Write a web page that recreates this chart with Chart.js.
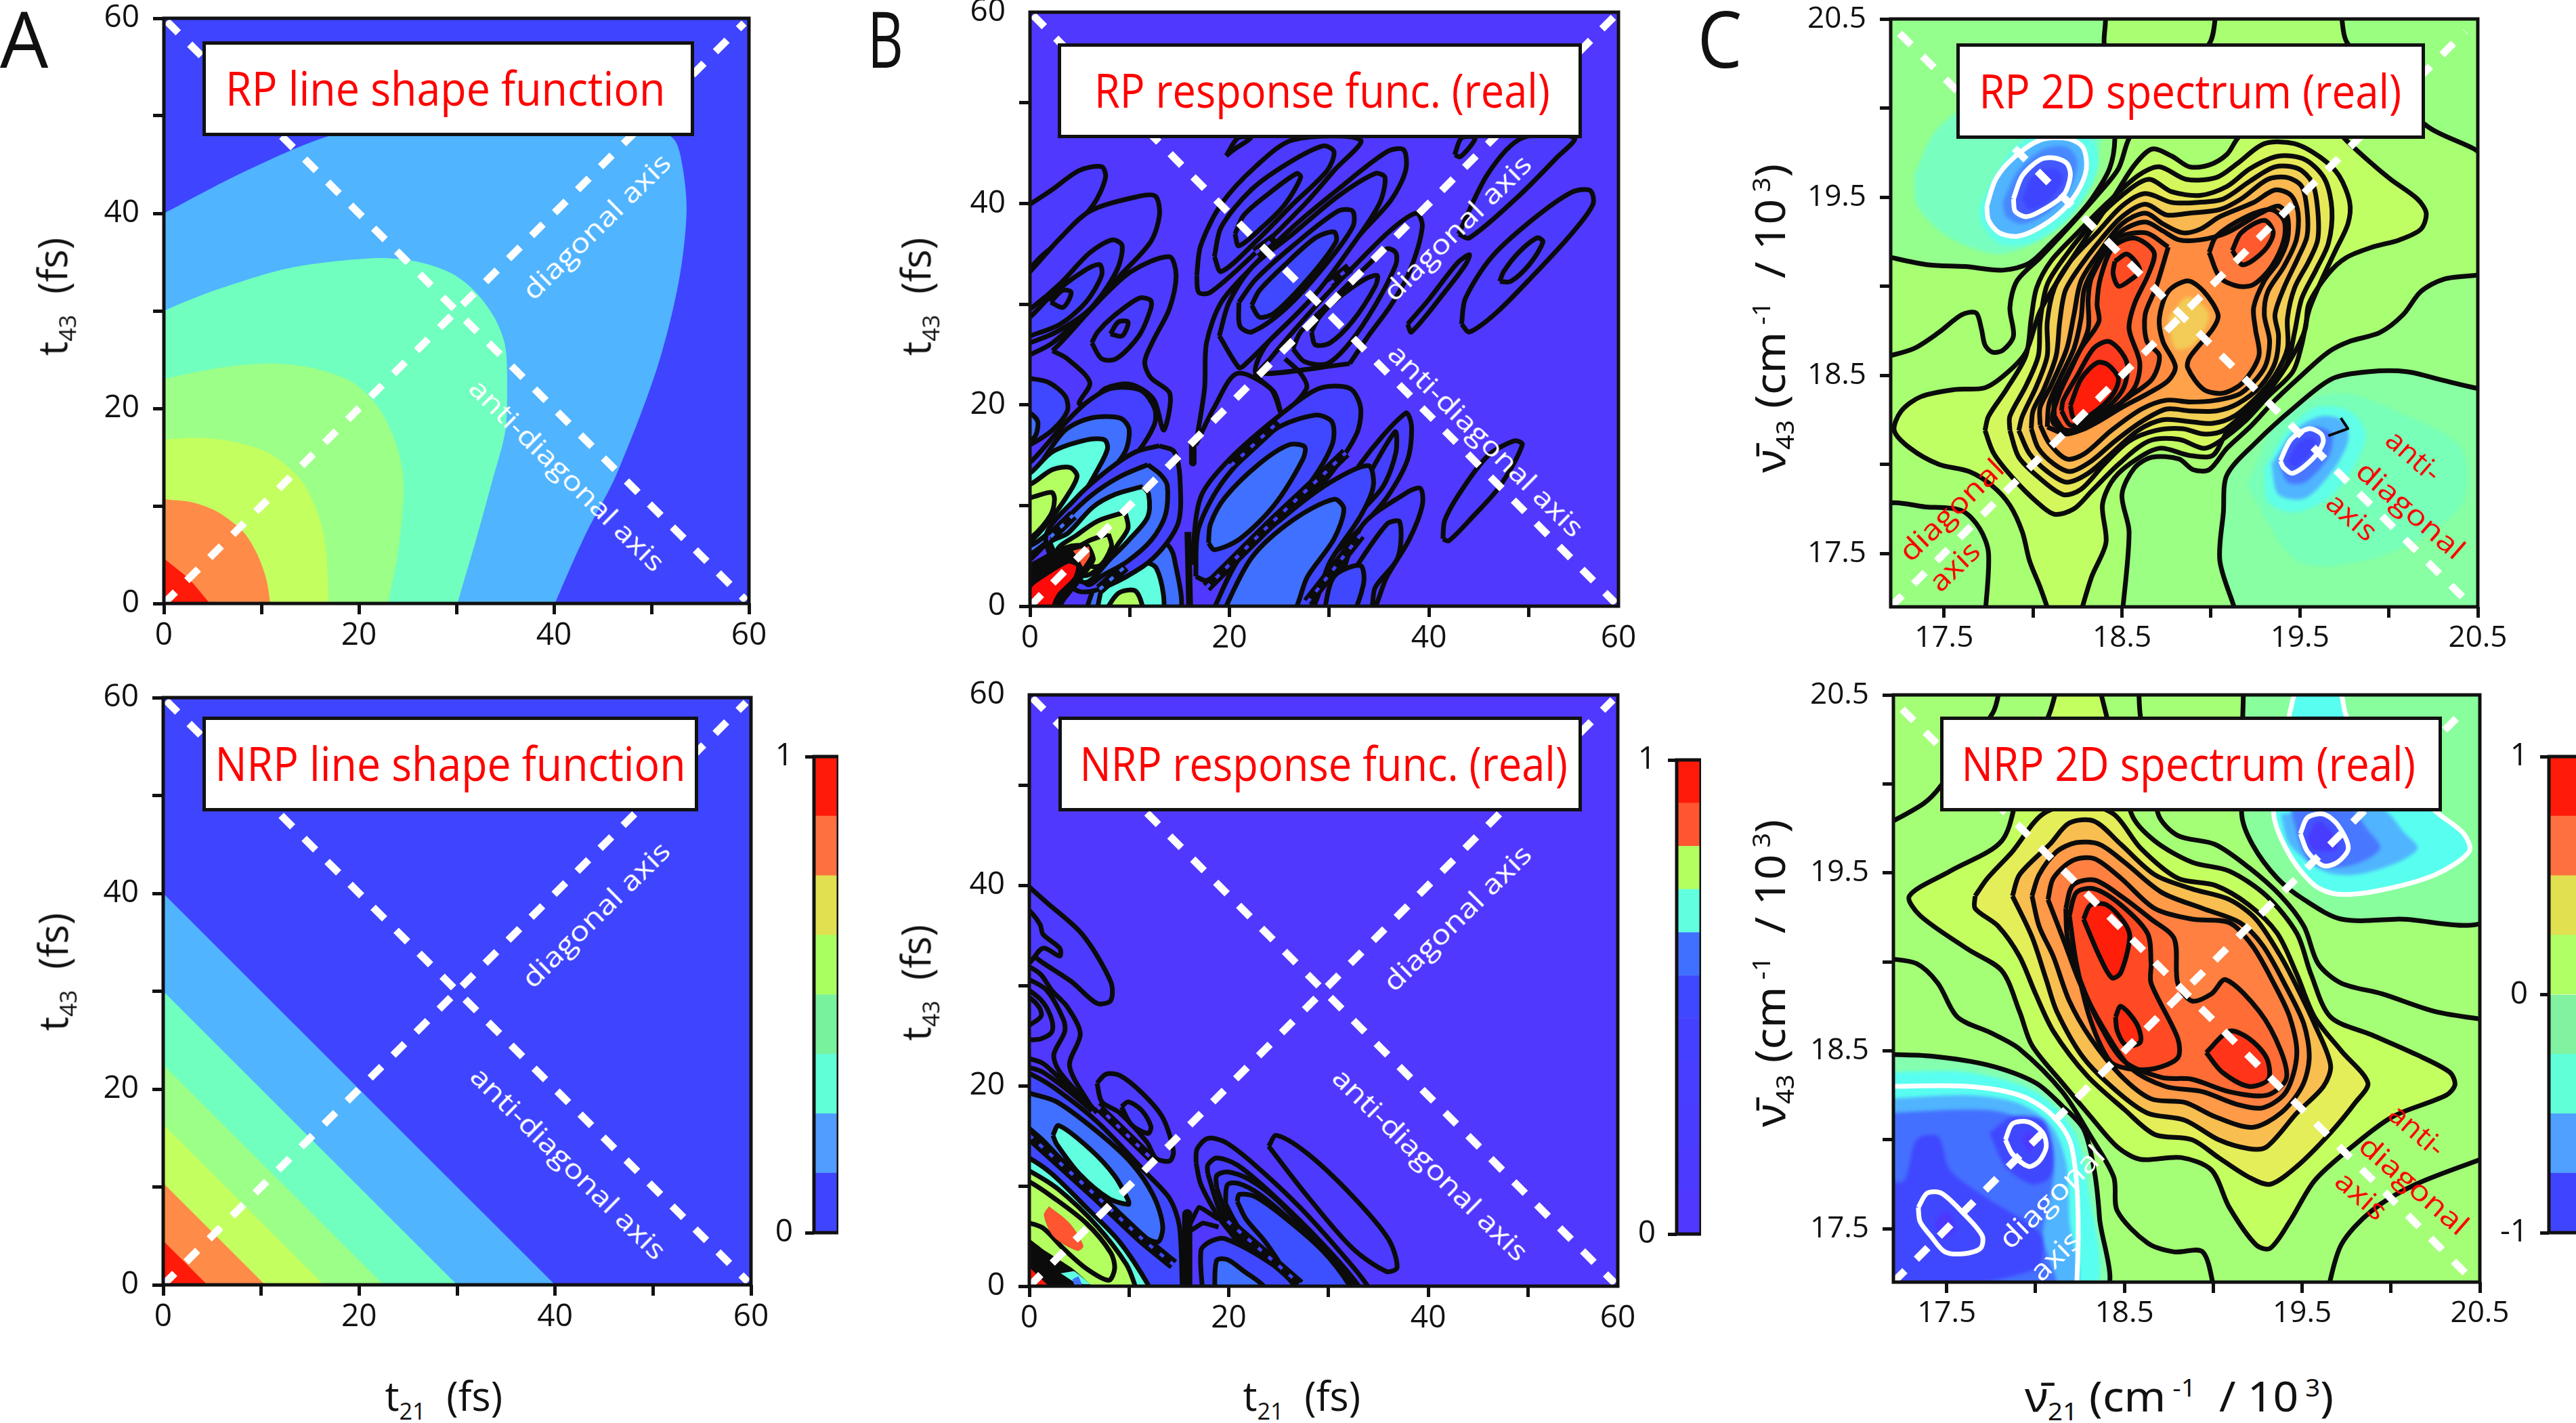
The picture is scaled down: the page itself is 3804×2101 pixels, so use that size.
<!DOCTYPE html>
<html><head><meta charset="utf-8"><title>2D spectra</title>
<script src="https://cdn.jsdelivr.net/npm/chart.js@4/dist/chart.umd.min.js"></script>
<style>
html,body{margin:0;padding:0;background:#fff;width:3804px;height:2101px;overflow:hidden}
#page{position:relative;width:3804px;height:2101px;overflow:hidden;font-family:"Open Sans","Noto Sans",sans-serif}
canvas{position:absolute;z-index:1}
.box{position:absolute;z-index:3;background:#fff;border:5px solid #111;box-sizing:border-box}
.txt{position:absolute;z-index:4;white-space:nowrap;line-height:1;transform-origin:center}
.txt sub,.txt sup{font-size:58%;line-height:0}
</style></head><body><div id="page"></div>
<script>
/* ---------- tick values ---------- */
const tTicks=[0,10,20,30,40,50,60];
const tLabels=[0,20,40,60];
const bTicks=[0,10,20,30,40,50,59];          /* response panels stop just short of 60; the end label still reads 60 */
const bLabels=[0,20,40,59];
const nuTicks=[17.5,18,18.5,19,19.5,20,20.5];
const nuLabels=[17.5,18.5,19.5,20.5];

/* ---------- colour bar bands ---------- */
const barAEdges=[0,.125,.25,.375,.5,.625,.75,.875,1];
const barAColors=['#3F44FF','#509CFF','#60FFD8','#78F29C','#AAFF60','#E0E050','#FF7040','#FF1A0A'];
const barBEdges=[0,.091,.182,.273,.364,.455,.545,.636,.727,.818,.909,1];
const barBColors=['#5038FF','#4C3AFF','#4A3CFF','#483EFF','#4440FF','#4048FF','#4070FF','#60FFE0','#B4FF60','#FF5530','#FF1A0A'];
const barCEdges=[-1,-.75,-.5,-.25,0,.25,.5,.75,1];
const barCColors=['#3F44FF','#50A0FF','#60FFD8','#80F2A0','#B0FF64','#E0E050','#FF7040','#FF1A0A'];

/* ---------- guide axes ---------- */
const tDiag=[0,0,59.5,59.5];
const tAnti=[.3,59.7,59.7,.3];
const nuDiag=[17.2,17.2,20.43,20.43];
const nuAnti=[17.25,20.42,20.42,17.25];

/* ---------- RP line shape contours ---------- */
const aFull=[-5,-5,65,-5,65,65,-5,65];
const at1=[-3,38.5,0,40,8.1,44.2,17.2,48,30,50.5,40,51,48,50,52.2,47.7,53.1,45.3,53.6,40.2,52.8,33,50.6,24.2,46.4,13.2,43.2,7,40.1,0,39,-3,-3,-3];
const at2=[-3,28.5,0,30,5.5,32.2,12.9,34.4,21.4,35.4,25.7,35.1,29.4,33.9,31.9,32,33.9,29.3,35,26.4,35.2,22,35,17.6,33.6,12.3,32,6.5,30.1,0,29.3,-3,-3,-3];
const at3=[-3,22,0,23,6,24.2,10.8,24.6,15,24.2,19.3,22.7,22.2,19.8,24,15.8,24.6,11.8,24,5.2,23,0,22.6,-3,-3,-3];
const at4=[-3,16.6,0,16.8,3.1,17,6.5,16.7,10.8,15.4,14,12.7,15.8,9.2,16.6,5.6,16.9,0,17,-3,-3,-3];
const at5=[-3,11.3,0,10.7,2.8,10.4,5.5,9.4,8.1,7.4,9.5,5.2,10.5,2.5,10.9,0,11.1,-3,-3,-3];
const at6=[-2,6,0,4.6,2.5,2.6,4.7,0,6,-2,-2,-2];

/* ---------- NRP line shape contours ---------- */
const ab1=[-2,42,42,-2,-2,-2];
const ab2=[-2,32,32,-2,-2,-2];
const ab3=[-2,24.5,24.5,-2,-2,-2];
const ab4=[-2,18.4,18.4,-2,-2,-2];
const ab5=[-2,12.4,12.4,-2,-2,-2];
const ab6=[-2,6.5,6.5,-2,-2,-2];

/* ---------- RP response contours ---------- */
const b1=[44,28.5,44.8,27.7,47.5,29.6,51.3,33.4,55.2,37.6,57.4,40.6,57.1,42,55.2,41.8,51.3,39.1,47.1,35.3,44.4,31.1];
const b1i=[47.9,32.8,49,32.8,50.9,34.5,52.3,36.8,51.7,37.2,49.8,35.7,48.3,33.8];
const b2=[42.1,6.8,42.7,6.6,45.2,9.1,47.9,12.1,50.2,16.3,49.4,16.7,46.7,15.2,44,11.7,42.3,8.7];
const bS1=[43.7,37.6,44.8,37.2,49.8,41.4,53.6,45.2,55.5,47.3,50.2,47.3,46.7,43.7];
const bS1i=[43.3,45.6,43.9,45.4,45.4,47.3,44,47.3];
const bS2=[38.5,28.5,38.9,27.7,42.5,32,44.4,34.5,44.8,35.5,43.6,34.7,40.6,30.9];
const bUp1=[17,33.4,17.2,31.7,18.4,31.7,23,35.7,28,40.6,31,44,33.7,47.1,26.8,47.1,23,44.4,19.5,40.6,17.4,36.4];
const bUp2=[18.8,35.3,19.5,33.8,23,36.8,26.8,40.6,30.3,44,31,45.9,29.9,46.5,26.4,44.8,22.6,42.1,19.5,38.3];
const bUp3=[20.9,37.6,21.3,36.4,23.7,38.3,26,40.6,27.6,43.3,27.2,43.7,24.5,41.8,21.8,39.5];
const bUp4=[20,45.5,20.9,46.2,22.5,47.3,21.2,47.3];
const bC1=[16.9,16.3,17.8,22,18,26.6,19.5,30.7,22.6,34.2,26.8,38.3,31.4,42.1,36.4,45.9,38.1,46.1,38.3,44,36.8,41,33.7,37.6,30.3,33.4,26.4,29.2,23.7,25.8,23,23.5,24.9,21.6,25.5,19.7,24.5,22,21.1,23.5,18.8,20.1];
const bC2=[19.3,27.3,21.3,24.1,21.8,24.3,24.5,26.9,29.1,31.5,32.6,36.1,35.6,40.6,36.2,43.3,35.2,43.7,31.4,41.4,26.8,37.6,22.6,34.2,20.3,30.7];
const bC3=[21.3,30.7,21.4,28.3,22.6,27.7,26,30,29.9,34.2,32.9,38.3,32.9,39.9,31.4,39.9,26.8,36.4,23,33];
const bC4=[22.6,30.4,23.4,29.2,24.9,29.6,28.3,33,31.2,36.8,31,37.8,29.1,37.2,26,34.5,23.4,31.9];
const bE=[32.6,24.5,34.5,27.3,36.8,30.4,38.7,33.8,40,38.3,39.4,39.7,36.8,38,32.9,34.2,29.5,30.7,26.8,27.7,24.5,25,23.4,23.5];
const bD1=[26.8,26,28,24.7,30.3,24.5,32.6,26.6,35.2,30.4,37.3,34.5,37.3,35.7,36.4,36.1,34.5,34.5,30.6,30.7,27.6,27.7];
const bD2=[28.7,27.7,29.1,26.4,30.6,26.6,32.9,28.8,35.2,32.3,35.4,33.4,34.1,33,31.4,31.1,29.5,29.2];
const bG0=[-1,38.3,0,38.3,1.3,38.3,1.5,36.8,0,34.9,-1,34.9];
const bG1=[-1,40,0,40.6,2.3,42.1,5,44,7.3,44.4,7.7,43.3,6.5,40.6,3.8,37.6,1.1,35.3,0,34.2,-1,34];
const bG2=[-1,33,0,33.8,3.1,37.2,6.1,39.9,11.1,41.4,12.8,41.4,13.2,39.5,12.3,36.8,9.2,33.4,6.1,30,2.3,26.6,0,25.4,-1,25];
const bG3=[-1,29.5,0,30,3.1,32.6,6.1,35.7,8.4,37,9.4,36.4,8.8,33.8,6.1,30,2.7,27.7,0,26.6,-1,26.2];
const bG4=[-1,28.6,0,29.2,2.3,31.5,5.4,33.8,7.1,34.5,7.3,33.4,5.7,30.7,3.1,28.5,0,27.3,-1,27];
const bG5=[2.1,30.7,3.3,31.9,4.2,31.7,3.4,30.2];
const bH1=[2.3,25.8,3.4,26.9,6.9,30.7,10.3,33.8,14.2,35.3,14.9,33.4,14.2,30,12.6,26.9,11.7,24.7,12.3,23.1,14.2,21.6,14.2,19.7,13.6,17.8,12.6,20.9,10.3,22.4,7.7,22,6.1,20.5,5,20.5,6.1,22.6,3.8,25];
const bH2=[6.3,26.6,7.3,25,8.8,25,11.1,27.3,12.3,30,12.3,30.9,11.1,31.1,8.4,29.2,6.9,27.7];
const bH3=[8.2,27.5,9.4,27.3,10,28.7,9,28.7];
const bI0=[-1,23,0,23,1.9,22.6,3.6,21.2,3.8,19.7,2.3,17.8,0,16.3,-1,16];
const bI0i=[-1,19.5,0,19.5,.8,18.6,.4,17,-1,16.8];
const bIa=[-1,14.2,.2,14.7,3.5,18.4,5.8,20.6,8.3,22,11.3,21.8,12.7,20,12.7,18.4,11,15.6,5.8,10.2,2.3,7,0,4.7,-1,4.4];
const bIb=[-1,13,.2,13.3,3.5,17.7,6.2,19,9.2,19,10.1,17.9,9.7,15.6,7.6,12.9,5.1,9.9,2.3,7,0,5.2,-1,5];
const bIc=[-1,13,.2,13.6,2.3,15.6,5.8,16.8,7.6,16.8,7.9,15.9,6.9,13.8,4.8,10.4,1.4,7,0,6.1,-1,5.9];
const bId=[-1,12,.2,12.4,2.3,13.8,4.1,14,4.8,13.1,3.7,11,2.1,8.8,.2,6.7,-1,6.4];
const bIe=[-1,10.8,.2,11,2.2,11.5,2.5,10.8,2.1,9.2,.2,7,-1,6.6];
const bJ0=[13.2,16.2,14.7,15.6,15.3,12.7,15,8.1,11.5,4,5,1.5,1.6,6.8,4.6,10.8,8,13.8,10.8,15.6];
const bJ1=[12,14.3,13.3,13.3,14,12.2,13.8,9.2,12.4,6.7,9.9,4.5,7.4,3.1,5.8,2.2,2.3,7,3.7,8.8,6.4,11.3,9.2,13.1];
const bJ2=[11.5,12.1,12.1,11.3,12,9,10.1,6.7,8.3,4.9,5.5,2.4,2.1,6.3,3.9,7.4,6.4,10,8.7,11.3];
const bJ3=[9.7,9.5,10,7.9,9,6.3,7.4,4.2,5.5,3.1,2.8,5.6,4.8,7.2,6.9,8.6];
const bJ4=[8,7.3,8.3,6,6.9,4,3.9,5.1,5.8,6.5];
const bMass=[-1,4.4,0,4.4,2.3,5.6,4.1,6.3,6,6.3,6.7,4.7,5.3,2.6,3.5,.35,3,-1,-1,-1];
const bOrange=[4.4,5.6,6,6,6.1,5.1,5.4,4,4.9,4.9];
const bRed=[-1,1,0,.35,.2,1.9,1.8,3.1,3.9,4.3,4.7,4,4.4,2.9,2.8,1.3,2.3,.35,2,-1,-1,-1];
const bK0=[5.5,-1,7.4,3.8,10.1,5.8,13.8,6.3,14.7,4.9,15,-1];
const bK1=[6.7,-1,7.8,2.9,10.6,4.5,12.9,3.8,13.3,-1];
const bK2=[7.4,-1,9,1.3,10.8,1.5,11.4,-1];
const bM0=[16.5,4.5,17.4,11,20.3,14.8,26,19.7,29.5,22,32.6,22,33.7,20.1,33.3,17.4,30.6,13.3,26.8,9.1,22.6,5.7,19.2,3];
const bM1=[16.9,3,17.2,7.9,19.9,12.9,24.9,17.8,29.1,19.3,30.8,18.6,30.8,16.3,28.3,12.1,24.5,7.9,20.3,4.1,18,2.6];
const bM2=[18.2,6.4,18.8,5.7,21.4,6.8,24.9,10.2,27.8,14.8,28,16.1,26.4,16.3,23.4,14.4,19.9,11,18.4,8.3];
const bN0=[18.4,-1,21.4,4.9,26,9.1,30.6,12.5,34.5,14.2,35,12.1,33.7,9.1,30.6,4.5,28,-1];
const bN1=[19.5,-1,22.6,4.9,26.8,8.7,31,10.8,32,9.8,31,6.8,28.3,3,26.4,-1];
const bP0=[30.3,8.7,33.7,14.4,38.3,19.5,38.9,18.2,38.5,14.8,36.4,11,33.7,7.9,29.9,4.1,26.4,-1,27,3];
const bP1=[33.3,11,37.2,17.6,37.3,15.5,36,12.1,33.3,9.1,30.3,5.7,29,3.5];
const bQ0=[30.6,-1,33.7,7.9,38.3,11.4,39.8,11.9,40,10.2,38.7,6.8,36.4,3,34.5,-1];
const bQ1=[29.9,-1,32.6,3,36.4,8.3,37.7,8.5,37.5,4.9,35.2,1.9,34.5,-1];
const bQ2=[29.9,-1,31,3,33.7,4.1,34,2.2,32.6,-1];
const bBar1=[16.1,7.5,16.3,-1];
const bBar2=[16.6,16.5,16.6,14.5];
const bT1=[20.5,14.2,25.3,18.6];
const bT2=[18,1.9,24.5,8.3,29.9,13.3,32.2,15.5];
const bT3=[28.3,.4,33.7,7.2];
const bT4=[23,35.7,25,37.2];
const bT5=[30.6,32.6,32.6,34.2];
const bT6=[2.1,7,4.4,9.2];
const bT7=[7.1,1.7,9.7,4];
const bSq=[26,25,27.6,23.5,28.2,22,25.7,19.1];

/* ---------- NRP response contours ---------- */
const c1=[0,40.5,1.7,39,5.4,35.7,8.3,30.9,8.3,29,6.9,28.7,4.3,30.9,1.4,32.8,0,33.8,-1,34];
const cNotch=[-1,38.6,0,38.1,1.1,36.7,1.4,35.7,3.1,34.3,3.1,33.5,1.4,34.3,0,32.8,-1,32.4];
const cN1=[-1,32.7,0,32.4,1.2,31.6,2.3,30,3.9,28.3,5.2,25.6,4.1,22.4,6,18.7,6.9,17.6];
const cN2=[-1,31.3,0,31.1,1.8,30,3.5,27,3.6,25.8,2.5,23.5,3,21.9,5.3,19.2];
const cN3=[-1,30.4,0,30,1.4,28.8,2.3,27,2.3,25.8,1.2,25.1,0,25,-1,25];
const cN4=[-1,29.6,0,29.3,1,28.3,1.2,27.4,0,26.5,-1,26.2];
const cN5=[-1,23.4,0,23.1,1.4,22.6,3.2,21,5.8,18.7];
const cN6=[-1,22.5,0,22.2,1.4,21.7,3.9,19.9,6.4,17.8];
const cB0=[-1,22,0,21.6,2.3,20.3,6.9,16.7,12,11.4,14.3,8.9,15.3,6.1,15.6,0,15.7,-1,-1,-1];
const cB1=[-1,20,0,19.6,2.8,18.7,6.9,15.7,10.4,12.5,12.7,9.1,13.6,6.1,13.1,4.5,11,5.4,8.1,8,4.6,11.4,1.4,14.8,0,16,-1,16.8];
const cB2=[2.4,15.3,3,16.3,6.2,13.9,8.7,11.2,10.1,8.7,10.1,8.3,8.1,8.9,5.1,11.4,2.8,14.4];
const cTeeth1=[0,15.3,6.9,9.1,11.5,4.8,14.7,2.2];
const cTeeth2=[6.9,18.3,12.4,13];
const cTeeth3=[20.2,6.6,27.6,.2];
const cB3=[-1,13.3,0,13,2.3,11.4,5.8,8,9.2,4.5,12.2,0,12.4,-1,-1,-1];
const cB4=[-1,12,0,11.7,3,9.8,6.9,6.1,9.9,2.2,10.8,0,11,-1,-1,-1];
const cB5=[-1,10.9,0,10.6,2.3,9.1,5.8,6.4,8.3,3.4,8.7,1.8,8.1,.6,5.8,1.8,3.5,3.8,1.4,5.9,0,6.4,-1,6.5];
const cOrange=[2,8.1,1.5,7.2,2.5,5,4.9,3.6,5.5,4.1,4.1,6.4];
const cMass=[-1,5,0,4.8,1.6,3.6,4.4,1.8,6.4,0,6.6,-1,-1,-1];
const cRed=[-1,2.8,0,1.9,2,0,3,-1,-1,-1];
const cAqua=[3.2,1.3,4.6,1.5,6.2,.2,4.8,.3];
const cBlueBit=[4.4,.7,5,1,5.6,-.5,4.8,-.5];
const cBar=[16.1,7.3,16.1,-1];
const cFan1=[16.1,5.7,17.3,8,19.3,6.8];
const cFan2=[16.1,5.4,17.7,6.4,19.3,6];
const cQ0=[17,12.5,17.1,13.9,18.2,15,20,14.6,23,12.3,27.6,8,32.2,2.9,34.5,0,34.6,-1,27,-1,22,3.5,20.7,5.2,19.3,7,17.5,10.3];
const cQ1=[18.2,11.4,18.2,12.3,19.1,13,21.2,12.3,24.8,9.3,29.9,4.3,33.6,0,33.7,-1,28,-1,21.5,4.5,19.5,7.5];
const cQ2=[19.1,10,19.1,11.2,20.2,11.6,22.3,10.9,25.3,8.7,29.9,3.8,33.1,0,33.2,-1,28.5,-1,22,4,20,7.5];
const cQ3=[20,8.4,20.2,10.3,21.4,10.4,23.5,9.3,26.5,6.8,30.6,2.9,32.9,0,33,-1,29,-1,23,3.5,21,6.5];
const cQ4=[21.2,8.6,21.4,9.3,23,9.1,26,7,29.9,3.6,32.7,0,32.8,-1,27.6,-1,25.3,2.7,23.9,4.7,22.1,6.8];
const cQ5=[17.7,-1,17.5,3.6,18.4,4.5,20,4.8,24.8,2.2,27.1,0,27.2,-1];
const cQ6=[18.9,-1,19.1,2.6,20.2,2.7,21.9,1.5,23.9,0,24,-1];
const cR=[24.4,14.2,25.2,15.3,28.3,13.5,32.9,9.2,36.6,4.8,37.5,1.9,36.4,1.5,32.9,3.9,28.3,9.2];
const cS=[6.9,20.6,7.8,21.5,9.2,21.4,11.5,19.6,13.6,17.1,14.7,13.7,14.3,12.7,12.9,13,12,14.6,9.2,17.6,7.4,18.7];
const cSi=[9.4,18.2,10.1,18.7,11.5,17.8,12.4,16.2,12.1,15.5,10.4,16.4];

/* ---------- RP 2D spectrum contours ---------- */
const ctFull=[17,17,21,17,21,21,17,21];
const ctA=[17.16,19.17,17.41,19.12,17.62,19.11,17.83,19.09,17.98,19.13,18.1,19.24,18.23,19.37,18.33,19.49,18.43,19.66,18.46,19.83,18.44,20.08,18.4,20.36,18.38,20.56,17.1,20.6];
const ctB=[19.03,20.54,18.99,20.36,18.67,20.02,18.54,19.83,18.48,19.66,18.36,19.51,18.19,19.32,18.04,19.16,17.91,19.03,17.87,18.88,17.89,18.72,17.83,18.64,17.77,18.63,17.73,18.67,17.71,18.76,17.68,18.85,17.6,18.84,17.47,18.74,17.33,18.65,17.16,18.6];
const ctC=[19.73,20.54,19.77,20.36,20.2,19.91,20.48,19.77,20.56,19.72,20.6,20.6];
const ctG=[17.73,17.14,17.75,17.5,17.7,17.64,17.6,17.74,17.41,17.76,17.16,17.76,17.1,17.1];
const ctE=[18.5,17.14,18.54,17.62,18.5,17.83,18.57,17.98,18.67,18.04,18.82,18.03,18.9,17.97,18.99,17.97,19.09,18.09,19.22,18.21,19.36,18.36,19.51,18.5,19.66,18.63,19.78,18.69,19.95,18.74,20.08,18.84,20.18,18.97,20.31,19.04,20.48,19.06,20.56,19.06,20.6,17.1];
const ctF=[20.56,18.42,20.48,18.43,20.31,18.47,20.1,18.52,19.89,18.52,19.68,18.48,19.47,18.32,19.26,18.13,19.09,17.94,19.07,17.73,19.05,17.46,19.13,17.2,19.16,17.1,20.6,17.1];
const ctP=[18.1,17.14,18.04,17.31,17.98,17.46,17.94,17.62,17.87,17.77,17.77,17.88,17.64,17.96,17.47,18,17.31,18.09,17.22,18.19,17.26,18.3,17.37,18.38,17.56,18.42,17.73,18.43,17.85,18.51,17.96,18.63,18.04,18.86,18.19,19.11,18.33,19.32,18.46,19.51,18.57,19.68,18.67,19.77,18.78,19.73,18.88,19.67,18.99,19.68,19.09,19.74,19.15,19.83,19.3,19.98,19.62,19.98,19.75,19.83,19.89,19.7,20.01,19.6,20.16,19.49,20.21,19.41,20.18,19.32,20.06,19.26,19.91,19.22,19.76,19.16,19.66,19.07,19.55,18.9,19.53,18.76,19.46,18.61,19.34,18.43,19.22,18.3,19.09,18.18,19.01,18.05,18.88,18.05,18.71,18.09,18.54,18,18.44,17.9,18.39,17.77,18.41,17.56,18.33,17.37,18.26,17.14];
const ctL1=[17.73,18.19,17.78,18.06,17.89,17.92,18.02,17.79,18.12,17.72,18.23,17.75,18.33,17.85,18.48,18,18.65,18.13,18.82,18.14,18.96,18.09,19.05,18.13,19.2,18.25,19.32,18.38,19.46,18.52,19.51,18.67,19.55,18.86,19.62,19.03,19.7,19.2,19.77,19.35,19.78,19.47,19.72,19.62,19.62,19.72,19.47,19.8,19.3,19.8,19.15,19.69,19.03,19.61,18.86,19.6,18.71,19.67,18.59,19.62,18.42,19.47,18.25,19.3,18.1,19.14,18.02,18.99,17.99,18.82,17.96,18.61,17.85,18.42,17.75,18.27];
const ctL2=[17.87,18.19,17.92,18.04,18.04,17.92,18.17,17.83,18.27,17.86,18.4,18,18.54,18.13,18.69,18.19,18.84,18.2,18.96,18.17,19.07,18.19,19.22,18.32,19.34,18.44,19.43,18.57,19.47,18.74,19.51,18.93,19.59,19.09,19.66,19.24,19.68,19.43,19.64,19.6,19.53,19.71,19.38,19.73,19.22,19.66,19.09,19.56,18.94,19.51,18.78,19.53,18.65,19.6,18.5,19.51,18.33,19.35,18.19,19.18,18.08,19.01,18.04,18.8,18.03,18.61,17.96,18.44,17.87,18.27];
const ctL3=[17.92,18.19,17.98,18.06,18.08,17.96,18.19,17.9,18.31,17.95,18.44,18.06,18.59,18.19,18.73,18.25,18.88,18.24,19.01,18.23,19.13,18.27,19.26,18.38,19.36,18.5,19.43,18.65,19.43,18.82,19.47,18.99,19.55,19.14,19.6,19.26,19.6,19.43,19.57,19.58,19.49,19.66,19.36,19.67,19.22,19.59,19.07,19.49,18.92,19.47,18.78,19.47,18.63,19.52,18.5,19.45,18.36,19.3,18.21,19.14,18.12,18.99,18.08,18.8,18.08,18.61,18.02,18.44,17.94,18.27];
const ctL4=[17.99,18.2,18.03,18.09,18.12,18,18.21,17.96,18.33,18.02,18.46,18.13,18.61,18.24,18.75,18.31,18.88,18.3,19.03,18.3,19.15,18.34,19.28,18.44,19.36,18.57,19.38,18.72,19.36,18.84,19.41,18.99,19.49,19.16,19.54,19.28,19.54,19.43,19.51,19.56,19.43,19.61,19.32,19.6,19.17,19.49,19.05,19.43,18.88,19.41,18.75,19.4,18.63,19.46,18.5,19.39,18.38,19.26,18.25,19.09,18.18,18.97,18.15,18.8,18.13,18.61,18.06,18.42,18,18.3];
const ctL5=[18.04,18.22,18.09,18.12,18.19,18.03,18.29,18.06,18.44,18.19,18.61,18.31,18.75,18.36,18.88,18.35,19.03,18.36,19.17,18.4,19.3,18.54,19.33,18.69,19.3,18.84,19.32,18.97,19.41,19.11,19.48,19.26,19.49,19.41,19.45,19.51,19.36,19.54,19.24,19.47,19.05,19.39,18.94,19.32,18.84,19.3,18.73,19.35,18.63,19.41,18.5,19.35,18.38,19.2,18.27,19.03,18.23,18.84,18.19,18.65,18.1,18.44,18.04,18.32];
const ctL6=[18.08,18.21,18.19,18.17,18.33,18.22,18.5,18.32,18.65,18.4,18.76,18.47,18.8,18.55,18.73,18.69,18.71,18.82,18.76,18.97,18.87,19.03,18.96,18.97,19.04,18.84,19.01,18.76,18.88,18.6,18.87,18.54,18.96,18.42,19.07,18.4,19.18,18.46,19.27,18.61,19.25,18.76,19.24,18.88,19.3,19.03,19.38,19.14,19.43,19.26,19.43,19.39,19.38,19.45,19.28,19.41,19.09,19.3,18.94,19.26,18.82,19.26,18.73,19.31,18.63,19.36,18.5,19.31,18.38,19.16,18.29,18.99,18.27,18.82,18.23,18.65,18.15,18.48,18.09,18.34];
const ctHole=[18.76,18.82,18.87,18.94,18.99,18.84,18.9,18.67,18.8,18.65];
const ctLLa=[18.76,19.22,18.69,18.99,18.63,18.84,18.64,18.69,18.71,18.61,18.67,18.48,18.54,18.38,18.38,18.27,18.21,18.19,18.11,18.24,18.15,18.4,18.23,18.57,18.31,18.76,18.31,18.93,18.33,19.05,18.46,19.26,18.63,19.3];
const ctLLb=[18.12,18.27,18.18,18.19,18.29,18.2,18.44,18.3,18.57,18.43,18.6,18.57,18.54,18.76,18.57,18.9,18.65,19.07,18.68,19.19,18.57,19.27,18.45,19.22,18.38,19.05,18.36,18.9,18.37,18.8,18.27,18.65,18.18,18.48,18.12,18.36];
const ctLLc=[18.16,18.3,18.21,18.22,18.3,18.24,18.43,18.33,18.51,18.43,18.53,18.56,18.48,18.65,18.42,18.69,18.34,18.65,18.25,18.5,18.17,18.36];
const ctLLd=[18.21,18.33,18.27,18.48,18.36,18.57,18.42,18.56,18.48,18.48,18.44,18.38,18.31,18.27,18.23,18.26];
const ctULd=[18.46,19.14,18.53,19.18,18.6,19.09,18.54,19.03,18.48,19,18.45,19.07];
const ctR1=[18.99,19.19,19.03,19.28,19.2,19.39,19.34,19.43,19.41,19.37,19.41,19.26,19.34,19.11,19.24,19.01,19.15,19,19.05,19.05];
const ctR2=[19.12,19.2,19.17,19.3,19.3,19.37,19.35,19.3,19.3,19.2,19.18,19.12];
const ctMint1=[17.33,19.62,17.45,19.87,17.73,20.08,18.04,20.19,18.29,20.08,18.38,19.87,18.33,19.62,18.21,19.41,18,19.24,17.79,19.18,17.52,19.28,17.35,19.45];
const ctAqua1=[17.7,19.45,17.79,19.62,17.91,19.79,18.1,19.87,18.31,19.85,18.37,19.7,18.31,19.53,18.17,19.35,17.98,19.24,17.81,19.24,17.71,19.35];
const ctWhite1=[17.74,19.45,17.79,19.6,17.89,19.72,18.04,19.82,18.19,19.83,18.28,19.78,18.3,19.66,18.25,19.53,18.15,19.41,18.02,19.32,17.91,19.28,17.81,19.3,17.75,19.37];
const ctBlue1=[17.83,19.47,17.91,19.64,18.06,19.77,18.19,19.78,18.25,19.7,18.21,19.56,18.08,19.41,17.94,19.35,17.85,19.39];
const ctWhite2=[17.89,19.49,17.94,19.62,18.04,19.71,18.12,19.72,18.19,19.69,18.21,19.62,18.17,19.51,18.04,19.42,17.96,19.39,17.9,19.42];
const ctCore1=[17.94,19.49,18,19.62,18.12,19.66,18.17,19.6,18.08,19.47,17.98,19.43];
const ctMint2=[19.2,17.88,19.4,18.27,19.72,18.4,20.04,18.3,20.41,18.09,20.41,17.77,20,17.5,19.5,17.45];
const ctAqua2=[19.3,17.98,19.43,18.19,19.59,18.32,19.78,18.3,19.87,18.17,19.8,17.98,19.66,17.81,19.47,17.73,19.32,17.79];
const ctBlue2=[19.34,18,19.47,18.19,19.62,18.27,19.75,18.24,19.77,18.13,19.68,17.96,19.53,17.81,19.38,17.83];
const ctBlue3=[19.38,18.02,19.49,18.16,19.59,18.21,19.68,18.17,19.66,18.04,19.53,17.9,19.43,17.9];
const ctWhite3=[19.39,18.02,19.45,18.14,19.55,18.2,19.62,18.17,19.63,18.12,19.57,18.03,19.46,17.95,19.41,17.98];
const ctCore2=[19.43,18.02,19.49,18.12,19.57,18.15,19.59,18.11,19.49,17.99,19.45,17.99];
const ctMark=[19.66,18.16,19.77,18.2,19.73,18.26];

/* ---------- NRP 2D spectrum contours ---------- */
const cbC1=[18.58,20.54,18.59,20.38,18.69,19.83,18.8,19.71,19.01,19.66,19.2,19.53,19.38,19.37,19.51,19.2,19.59,18.99,19.72,18.88,19.95,18.82,20.25,18.72,20.56,18.67];
const cbC2=[18.36,20.54,18.4,20.38,18.54,19.83,18.67,19.68,18.88,19.56,19.09,19.51,19.3,19.37,19.47,19.16,19.55,18.93,19.66,18.69,19.89,18.59,20.14,18.48,20.33,18.38,20.36,18.31,20.31,18.25,20.01,18.13,19.78,17.96,19.57,17.77,19.43,17.54,19.32,17.39,19.24,17.41,19.09,17.62,18.99,17.83,18.82,17.9,18.59,17.89,18.46,17.96,18.31,18.13,18.15,18.32,17.98,18.53,17.91,18.72,17.81,18.95,17.62,19.07,17.35,19.26,17.29,19.37,17.52,19.51,17.81,19.68,17.91,19.98,18.08,20.4,18.12,20.54];
const cbL0=[17.16,19.02,17.33,18.99,17.45,18.88,17.56,18.69,17.75,18.6,17.91,18.51,18.15,18.27,18.31,18.02,18.44,17.79,18.46,17.6,18.63,17.42,18.78,17.37,18.94,17.37,19.01,17.14];
const cbLc=[19.64,17.14,19.72,17.41,19.89,17.6,20.14,17.75,20.56,17.91];
const cbLt=[17.8,20.54,17.76,20.4,17.46,19.98,17.37,19.89,17.16,19.77];
const cbNeg=[17.16,18.48,17.41,18.47,17.73,18.42,18,18.32,18.15,18.19,18.27,18.06,18.33,17.83,18.36,17.56,18.38,17.14,17.1,17.1];
const cbAq=[17.16,18.38,17.62,18.38,18,18.27,18.21,18.06,18.29,17.77,18.31,17.14,17.1,17.1];
const cbWh=[17.16,18.3,17.62,18.3,17.91,18.25,18.08,18.15,18.19,18,18.23,17.77,18.24,17.46,18.23,17.14];
const cbBl=[17.16,18.23,17.62,18.25,17.89,18.21,18.08,18.09,18.17,17.88,18.19,17.56,18.21,17.14,17.1,17.1];
const cbBl2=[17.16,18.15,17.62,18.17,17.83,18.15,18.04,18.04,18.1,17.85,18.08,17.67,18.04,17.46,18.1,17.14,17.1,17.1];
const cbDk1=[17.16,17.77,17.26,17.77,17.33,18,17.45,18.02,17.52,17.83,17.73,17.67,18.02,17.48,18.04,17.35,18,17.27,17.41,17.14,17.1,17.1];
const cbDk2=[17.74,18.04,17.87,18.13,18.04,18.11,18.1,17.94,18.08,17.79,17.98,17.75,17.83,17.85];
const cbW1=[17.34,17.62,17.39,17.7,17.47,17.7,17.6,17.58,17.7,17.46,17.69,17.39,17.6,17.36,17.49,17.37,17.41,17.46,17.35,17.54];
const cbW2=[17.83,18,17.87,18.09,17.96,18.1,18.04,18.04,18.06,17.96,18.02,17.88,17.96,17.85,17.87,17.92];
const cbCo1=[17.43,17.54,17.5,17.6,17.55,17.5,17.48,17.44];
const cbCo2=[17.92,18,17.96,18.05,18,18,17.97,17.93];
const cbUR=[19.17,20.54,19.16,19.83,19.22,19.66,19.36,19.47,19.51,19.35,19.72,19.24,20.04,19.24,20.56,19.26,20.6,20.6];
const cbUW=[19.43,20.4,19.48,20.54,19.7,20.54,19.75,20.38,19.95,20.1,20.27,19.83,20.41,19.72,20.44,19.62,20.25,19.49,19.93,19.4,19.7,19.38,19.57,19.43,19.43,19.6,19.34,19.83,19.38,20.1];
const cbUB=[19.38,19.83,19.43,19.66,19.62,19.51,19.8,19.49,20.04,19.56,20.15,19.64,20.08,19.72,19.93,19.87];
const cbUB2=[19.43,19.87,19.53,19.58,19.68,19.53,19.83,19.56,19.94,19.64,19.87,19.74,19.76,19.87];
const cbUW2=[19.49,19.72,19.53,19.81,19.62,19.83,19.7,19.77,19.76,19.64,19.7,19.56,19.62,19.54,19.53,19.62];
const cbUCo=[19.53,19.7,19.59,19.79,19.66,19.74,19.7,19.64,19.64,19.62,19.55,19.64];
const cbE2=[17.66,19.37,17.73,19.47,17.87,19.62,18.04,19.83,18.25,19.89,18.44,19.83,18.59,19.64,18.8,19.47,19.01,19.43,19.2,19.32,19.36,19.16,19.47,18.93,19.57,18.69,19.72,18.5,19.87,18.32,19.8,18.21,19.66,18.04,19.47,17.85,19.32,17.75,19.2,17.79,19.03,17.9,18.88,18,18.67,18.03,18.5,18.17,18.29,18.36,18.1,18.61,18,18.82,17.91,19.03,17.79,19.2,17.66,19.3];
const cbE3=[17.87,19.37,17.91,19.49,18.08,19.66,18.19,19.78,18.33,19.79,18.48,19.66,18.67,19.49,18.88,19.41,19.09,19.35,19.24,19.24,19.38,19.03,19.47,18.86,19.57,18.65,19.66,18.42,19.62,18.3,19.47,18.15,19.3,17.96,19.2,17.95,19.03,18,18.84,18.11,18.63,18.15,18.46,18.27,18.27,18.46,18.12,18.72,18.06,18.9,17.98,19.14];
const cbE4=[17.98,19.37,18.02,19.49,18.12,19.62,18.23,19.67,18.36,19.66,18.5,19.56,18.71,19.39,18.94,19.3,19.15,19.22,19.28,19.09,19.41,18.86,19.51,18.65,19.54,18.46,19.5,18.3,19.38,18.15,19.22,18.07,19.01,18.13,18.84,18.21,18.65,18.23,18.48,18.36,18.31,18.57,18.19,18.78,18.1,19.03,18.02,19.2];
const cbE5=[18.07,19.35,18.1,19.47,18.21,19.57,18.33,19.58,18.48,19.47,18.67,19.3,18.88,19.24,19.09,19.22,19.22,19.09,19.34,18.88,19.43,18.69,19.47,18.48,19.41,18.27,19.28,18.18,19.13,18.2,18.94,18.27,18.73,18.3,18.54,18.4,18.38,18.63,18.25,18.88,18.17,19.09];
const cbE5b=[18.17,19.3,18.21,19.43,18.33,19.46,18.48,19.37,18.65,19.24,18.78,19.13,18.8,18.88,18.88,18.78,18.99,18.82,19.07,18.9,19.26,18.72,19.38,18.5,19.41,18.34,19.3,18.25,19.09,18.27,18.88,18.34,18.71,18.35,18.5,18.44,18.36,18.65,18.25,18.9,18.18,19.13];
const cbE6=[18.19,19.26,18.23,19.39,18.33,19.41,18.48,19.32,18.63,19.16,18.65,18.99,18.65,18.88,18.8,18.57,18.8,18.46,18.67,18.4,18.52,18.4,18.42,18.44,18.31,18.67,18.23,18.99];
const cbI1=[18.27,19.24,18.31,19.32,18.4,19.32,18.5,19.22,18.53,19.14,18.48,18.94,18.43,18.91,18.36,19.03];
const cbI2=[18.45,18.69,18.48,18.75,18.57,18.65,18.59,18.55,18.51,18.53,18.46,18.61];
const cbI3=[18.96,18.49,19.09,18.61,19.2,18.57,19.3,18.46,19.31,18.34,19.2,18.3,19.05,18.38];

/* ---------- layer helpers ---------- */
const P=a=>{const r=[];for(let i=0;i<a.length;i+=2)r.push({x:a[i],y:a[i+1]});return r;};
const ring=a=>{const r=P(a);r.push({x:a[0],y:a[1]});return r;};
const K='#0B0B0B',W='#FFFFFF',INK=7;
function F(a,color,t){return{type:'scatter',data:ring(a),showLine:true,fill:'shape',backgroundColor:color,borderWidth:0,pointRadius:0,tension:t===undefined?.3:t,capBezierPoints:false};}
function L(a,color,w,dash,t,closed){return{type:'scatter',data:closed?ring(a):P(a),showLine:true,fill:false,borderColor:color,borderWidth:w,borderDash:dash||[],pointRadius:0,tension:t===undefined?.3:t,capBezierPoints:false,borderCapStyle:'butt',borderJoinStyle:'round'};}
function FL(a,color,w,t){const d=F(a,color,t);d.borderColor=K;d.borderWidth=w||INK;return d;}
const guides=(d,an)=>[L(d,W,11,[24,24],0),L(an,W,11,[24,24],0)];

const frame={id:'frame',afterDatasetsDraw(c){const a=c.chartArea,x=c.ctx;x.save();x.filter='none';x.lineWidth=5;x.strokeStyle='#111';x.strokeRect(a.left,a.top,a.width,a.height);x.restore();}};
const soft={id:'soft',
 beforeDatasetsDraw(c,_,o){if(o.blur)c.ctx.filter='blur('+o.blur+'px)';},
 beforeDatasetDraw(c,args){const ds=c.data.datasets[args.index];if(!ds.fill)c.ctx.filter='none';},
 afterDatasetsDraw(c){c.ctx.filter='none';}};

const page=document.getElementById('page');
function makeCanvas(l,t,w,h){const e=document.createElement('canvas');e.width=w;e.height=h;e.style.left=l+'px';e.style.top=t+'px';e.style.width=w+'px';e.style.height=h+'px';page.appendChild(e);return e;}

function panel(r,layers,o){
 const ml=170,mb=100,mt=Math.min(r.top,30),mr=70;
 const e=makeCanvas(r.left-ml,r.top-mt,r.right-r.left+ml+mr,r.bottom-r.top+mt+mb);
 const n=layers.length;layers.forEach((d,i)=>{d.order=n-i;});
 if(o.k)layers.forEach(d=>d.data.forEach(p=>{p.x*=o.k;p.y*=o.k;}));
 const tickFont={family:'"Open Sans","Noto Sans",sans-serif',size:o.fs,weight:'500'};
 const endLabel=o.endLabel||{};
 const axis=(ticks,labels,min,max,isX)=>({type:'linear',position:isX?'bottom':'left',min,max,
   afterBuildTicks:s=>{s.ticks=ticks.map(value=>({value}));},
   afterFit:s=>{if(isX)s.height=mb;else s.width=ml;s.paddingLeft=s.paddingRight=s.paddingTop=s.paddingBottom=0;},
   border:{display:false},
   grid:{drawOnChartArea:false,drawTicks:true,tickLength:16,tickWidth:5,tickColor:c=>(endLabel[c.tick&&c.tick.value]?'rgba(0,0,0,0)':'#111')},
   ticks:{autoSkip:false,maxRotation:0,minRotation:0,padding:isX?4:20,color:'#111',font:tickFont,callback:v=>labels.includes(v)?String(endLabel[v]||v):''}});
 new Chart(e,{type:'scatter',data:{datasets:layers},plugins:[soft,frame],options:{
   responsive:false,animation:false,devicePixelRatio:1,events:[],
   layout:{padding:{left:0,top:mt,right:mr,bottom:0}},
   plugins:{legend:{display:false},tooltip:{enabled:false},soft:{blur:o.blur||0}},
   scales:{x:axis(o.ticks,o.labels,o.min,o.max,true),y:axis(o.ticks,o.labels,o.min,o.max,false)}}});
}
function colorbar(r,edges,colors,ticks,ml){
 const pad=24;
 const e=makeCanvas(r.left-ml,r.top-pad,r.right-r.left+ml,r.bottom-r.top+2*pad);
 const ds=colors.map((c,i)=>({data:[[edges[i],edges[i+1]]],backgroundColor:c,borderWidth:0,grouped:false,barPercentage:1,categoryPercentage:1}));
 new Chart(e,{type:'bar',data:{labels:[''],datasets:ds},plugins:[frame],options:{
  responsive:false,animation:false,devicePixelRatio:1,events:[],
  layout:{padding:{left:0,top:pad,right:0,bottom:pad}},
  plugins:{legend:{display:false},tooltip:{enabled:false}},
  scales:{x:{display:false},y:{min:edges[0],max:edges[edges.length-1],
   afterBuildTicks:s=>{s.ticks=ticks.map(value=>({value}));},
   afterFit:s=>{s.width=ml;s.paddingTop=s.paddingBottom=0;},
   border:{display:false},grid:{drawOnChartArea:false,tickLength:13,tickWidth:5,tickColor:'#111'},
   ticks:{autoSkip:false,padding:18,color:'#111',font:{family:'"Open Sans","Noto Sans",sans-serif',size:46,weight:'500'},callback:v=>String(v)}}}}});
}
function text(html,cx,cy,w,size,color,rot,extra){
 const s=document.createElement('span');s.className='txt';s.innerHTML=html;s.style.fontSize=size+'px';s.style.color=color||'#111';
 if(extra)s.style.fontFamily=extra;page.appendChild(s);
 const ow=s.offsetWidth,oh=s.offsetHeight;const k=w?w/ow:1;
 s.style.left=(cx-ow/2)+'px';s.style.top=(cy-oh/2)+'px';
 s.style.transform='rotate('+(rot||0)+'deg) scaleX('+k+')';
}
function titleBox(label,l,t,r,b,tl,tr){
 const d=document.createElement('div');d.className='box';d.style.left=l+'px';d.style.top=t+'px';d.style.width=(r-l)+'px';d.style.height=(b-t)+'px';page.appendChild(d);
 text(label,(tl+tr)/2,(t+b)/2-2,tr-tl,70,'#FF0000');
}

/* ---------- panel A ---------- */
panel({left:242,top:27,right:1106,bottom:891},[
 F(aFull,'#3F44FF',0),F(at1,'#50B4FF'),F(at2,'#70FFBE'),F(at3,'#9CFF88'),F(at4,'#C4FF60'),F(at5,'#FF8B48'),F(at6,'#FF1A0A',.15),
 ...guides(tDiag,tAnti)],{ticks:tTicks,labels:tLabels,min:0,max:60,fs:46});
panel({left:241,top:1030,right:1109,bottom:1897},[
 F(aFull,'#3F44FF',0),F(ab1,'#50B4FF',0),F(ab2,'#70FFBE',0),F(ab3,'#9CFF88',0),F(ab4,'#C4FF60',0),F(ab5,'#FF8B48',0),F(ab6,'#FF1A0A',0),
 ...guides(tDiag,tAnti)],{ticks:tTicks,labels:tLabels,min:0,max:60,fs:46});

/* ---------- panel B colours ---------- */
const q0='#5038FF',q1='#4C3AFF',q2='#483CFF',q3='#4440FF',q4='#3F48FF',q5='#4070FF',q6='#60FFE0',q7='#B4FF60',q8='#FF5530',q9='#FF0A0A';
const teeth=(a,bg,w)=>[L(a,K,w||16,[],.2),L(a,bg,5,[7,13],.2)];
const bOpts={ticks:bTicks,labels:bLabels,min:0,max:59,fs:46,k:59/60,endLabel:{59:60}};
panel({left:1521,top:18,right:2390,bottom:895},[
 F(aFull,q0,0),
 FL(b1,q1),FL(b1i,q2),FL(b2,q1),FL(bS1,q1),FL(bS1i,q1),FL(bS2,q1),
 FL(bE,q1),FL(bC1,q1),FL(bC2,q2),FL(bC3,q3),FL(bC4,q4),
 FL(bUp1,q1),FL(bUp2,q2),FL(bUp3,q3),FL(bUp4,q1),
 FL(bD1,q1),FL(bD2,q2),L(bSq,K,INK),
 FL(bG0,q1),FL(bG1,q1),FL(bH1,q1),FL(bH2,q2),FL(bH3,q1),FL(bG2,q1),FL(bG3,q2),FL(bG4,q3),FL(bG5,q1),
 FL(bI0,q4),FL(bI0i,q5),
 FL(bP0,q2),FL(bP1,q3),FL(bQ0,q2),FL(bQ1,q3),FL(bQ2,q4),
 FL(bM0,q3),FL(bM1,q4),FL(bM2,q5),FL(bN0,q4),FL(bN1,q5),
 ...teeth(bT1,q3),...teeth(bT2,q3),...teeth(bT3,q3),...teeth(bT4,q1),...teeth(bT5,q1),
 FL(bK0,q5),FL(bK1,q6),FL(bK2,q7),
 FL(bIa,q3),FL(bIb,q5),FL(bIc,q6),FL(bId,q7),L(bIe,K,INK),
 FL(bJ0,q3),FL(bJ1,q5),FL(bJ2,q6),FL(bJ3,q7),L(bJ4,K,INK,[],.3,true),
 ...teeth(bT6,q5),...teeth(bT7,q5),
 L(bBar1,K,10,[],0),L(bBar2,K,11,[],0),
 F(bMass,K,.2),F(bOrange,q8,.1),F(bRed,q9,.2),
 ...guides(tDiag,tAnti)],bOpts);

panel({left:1520,top:1026,right:2389,bottom:1899},[
 F(aFull,q0,0),
 FL(c1,q1),FL(cNotch,q1),L(cN1,K,INK),L(cN2,K,INK),L(cN3,K,INK),L(cN4,K,INK),L(cN5,K,INK),L(cN6,K,INK),
 FL(cR,q1),FL(cS,q1),FL(cSi,q2),
 FL(cB0,q4),FL(cB1,q5),FL(cB2,q6),
 FL(cB3,q6),FL(cB4,q7),L(cB5,K,INK),FL(cOrange,q8,.15),
 ...teeth(cTeeth1,q4,17),...teeth(cTeeth2,q0,13),
 FL(cQ0,q1),FL(cQ1,q2),FL(cQ2,q3),FL(cQ3,q4),FL(cQ4,'#3C50FF'),
 FL(cQ5,q4),FL(cQ6,q5),...teeth(cTeeth3,q3,15),
 L(cBar,K,15,[],0),L(cFan1,K,INK,[],.1),L(cFan2,K,INK,[],.1),
 F(cMass,K,.1),F(cAqua,q6,.1),F(cBlueBit,q5,.1),F(cRed,'#FF1A0A',.05),
 ...guides(tDiag,tAnti)],bOpts);

/* ---------- panel C ---------- */
const ctLines=[ctA,ctB,ctC,ctG,ctE,ctF,ctP].map(a=>L(a,K,INK)).concat(
 [ctL1,ctL2,ctL3,ctL4,ctL5,ctL6,ctLLa,ctLLb,ctLLc,ctLLd,ctULd,ctR1,ctR2].map(a=>L(a,K,INK,[],.3,true)),
 [ctWhite1,ctWhite2,ctWhite3].map(a=>L(a,W,INK,[],.3,true)),[L(ctMark,K,4,[],0)]);
panel({left:2792,top:28,right:3659,bottom:896},[
 F(ctFull,'#A8FF72',0),F(ctG,'#98FF80'),F(ctC,'#98FF80'),F(ctE,'#9AFF82'),F(ctF,'#88FFA2'),
 F(ctMint2,'#78FFB8'),F(ctAqua2,'#60FFE8'),F(ctBlue2,'#50B4FF'),F(ctBlue3,'#4878FF'),F(ctWhite3,'#4458FF'),F(ctCore2,'#3F44FF'),
 F(ctA,'#94FF8C'),F(ctMint1,'#78FFC0'),F(ctAqua1,'#60FFE8'),F(ctWhite1,'#50B4FF'),F(ctBlue1,'#4888FF'),F(ctWhite2,'#4458FF'),F(ctCore1,'#3F44FF'),
 F(ctP,'#C0FF64'),F(ctL1,'#D4F85C'),F(ctL2,'#E6E858'),F(ctL3,'#F2D056'),F(ctL4,'#F9B850'),F(ctL5,'#FFA24A'),
 F(ctL6,'#FF8C40'),F(ctHole,'#F2CC56'),F(ctLLa,'#FF6C34'),F(ctLLb,'#FF5428'),F(ctLLc,'#FF3A1E'),F(ctLLd,'#FF1E0A'),F(ctULd,'#FF4A24'),F(ctR1,'#FF7A3C'),F(ctR2,'#FF5A2E'),
 ...ctLines,...guides(nuDiag,nuAnti)],{ticks:nuTicks,labels:nuLabels,min:17.2,max:20.5,fs:44,blur:2.5});

const cbLines=[cbNeg,cbUR,cbC1,cbC2,cbL0,cbLc,cbLt].map(a=>L(a,K,INK)).concat(
 [cbE2,cbE3,cbE4,cbE5,cbE5b,cbE6,cbI1,cbI2,cbI3].map(a=>L(a,K,INK,[],.3,true)),
 [L(cbWh,W,INK)],[L(cbUW,W,INK,[],.3,true)],[cbW1,cbW2,cbUW2].map(a=>L(a,W,INK,[],.3,true)));
panel({left:2796,top:1026,right:3662,bottom:1893},[
 F(ctFull,'#A4FF76',0),F(cbUR,'#88FF9C'),F(cbUW,'#58FFF0'),F(cbUB,'#50B4FF'),F(cbUB2,'#4878FF'),F(cbUW2,'#4454FF'),F(cbUCo,'#483CFF'),
 F(cbNeg,'#84FFB0'),F(cbAq,'#58FFF0'),F(cbBl,'#50B4FF'),F(cbBl2,'#4470FF'),F(cbDk1,'#4048FF'),F(cbDk2,'#4048FF'),F(cbCo1,'#4C38FF'),F(cbCo2,'#4C38FF'),
 F(cbC2,'#C4FF60'),F(cbE2,'#E4EE58'),F(cbE3,'#F8BE50'),F(cbE4,'#FF9A48'),F(cbE5,'#FF8040'),F(cbE5b,'#FF6C36'),F(cbE6,'#FF4A24'),F(cbI1,'#FF1E0A'),F(cbI2,'#FF2A10'),F(cbI3,'#FF3418'),
 ...cbLines,...guides(nuDiag,nuAnti)],{ticks:nuTicks,labels:nuLabels,min:17.2,max:20.5,fs:44,blur:2.5});

/* ---------- colour bars ---------- */
colorbar({left:1202,top:1117,right:1238,bottom:1820},barAEdges,barAColors,[0,1],80);
colorbar({left:2476,top:1122,right:2512,bottom:1822},barBEdges,barBColors,[0,1],80);
colorbar({left:3764,top:1117,right:3810,bottom:1820},barCEdges,barCColors,[-1,0,1],90);

/* ---------- titles and annotations ---------- */
titleBox('RP line shape function',299,61,1025,201,333,982);
titleBox('NRP line shape function',299,1058,1031,1198,317,1012);
titleBox('RP response func. (real)',1562,64,2336,204,1616,2289);
titleBox('NRP response func. (real)',1563,1058,2336,1198,1594,2314);
titleBox('RP 2D spectrum (real)',2889,64,3581,205,2922,3546);
titleBox('NRP 2D spectrum (real)',2865,1058,3606,1198,2896,3566);

text('A',35,55,71,116);text('B',1307,55,53,116);text('C',2539,55,66,116);

const t43='t<sub>43</sub>&nbsp;&nbsp;(fs)',t21='t<sub>21</sub>&nbsp;&nbsp;(fs)';
const n43='ν̄<sub>43</sub>&nbsp;(cm<sup>&nbsp;-1</sup>&nbsp;&nbsp;/ 10<sup>&nbsp;3</sup>)';
const n21='ν̄<sub>21</sub>&nbsp;(cm<sup>&nbsp;-1</sup>&nbsp;&nbsp;/ 10<sup>&nbsp;3</sup>)';
text(t43,76,438,175,60,'#111',-90);text(t43,77,1435,175,60,'#111',-90);
text(t43,1351,438,175,60,'#111',-90);text(t43,1351,1451,172,60,'#111',-90);
text(n43,2612,470,456,62,'#111',-90,'"Noto Sans",sans-serif');text(n43,2612,1437,454,62,'#111',-90,'"Noto Sans",sans-serif');
text(t21,655,2060,174,60);text(t21,1922,2060,174,60);
text(n21,3218,2060,456,62,'#111',0,'"Noto Sans",sans-serif');

const wt=(s,x,y,w,r)=>text(s,x,y,w,41,'#FFFFFF',r);
wt('diagonal axis',880,333,288,-44.5);wt('anti-diagonal axis',838,700,386,44.5);
wt('diagonal axis',879,1349,288,-44.5);wt('anti-diagonal axis',840,1716,386,44.5);
wt('diagonal axis',2151,335,288,-44.5);wt('anti-diagonal axis',2195,649,386,44.5);
wt('diagonal axis',2151,1354,288,-44.5);wt('anti-diagonal axis',2113,1718,386,44.5);
const rt=(s,x,y,w,r,c)=>text(s,x,y,w,42,c||'#FF0000',r);
rt('diagonal',2880,752,196,-44);rt('axis',2885,835,86,-44);
rt('anti-',3565,672,92,41);rt('diagonal',3560,752,196,41);rt('axis',3474,762,84,41);
rt('diagonal',3028,1766,198,-44,'#FFFFFF');rt('axis',3034,1853,86,-44,'#FFFFFF');
rt('anti-',3570,1668,94,41);rt('diagonal',3565,1749,198,41);rt('axis',3488,1764,86,41);
</script></body></html>
